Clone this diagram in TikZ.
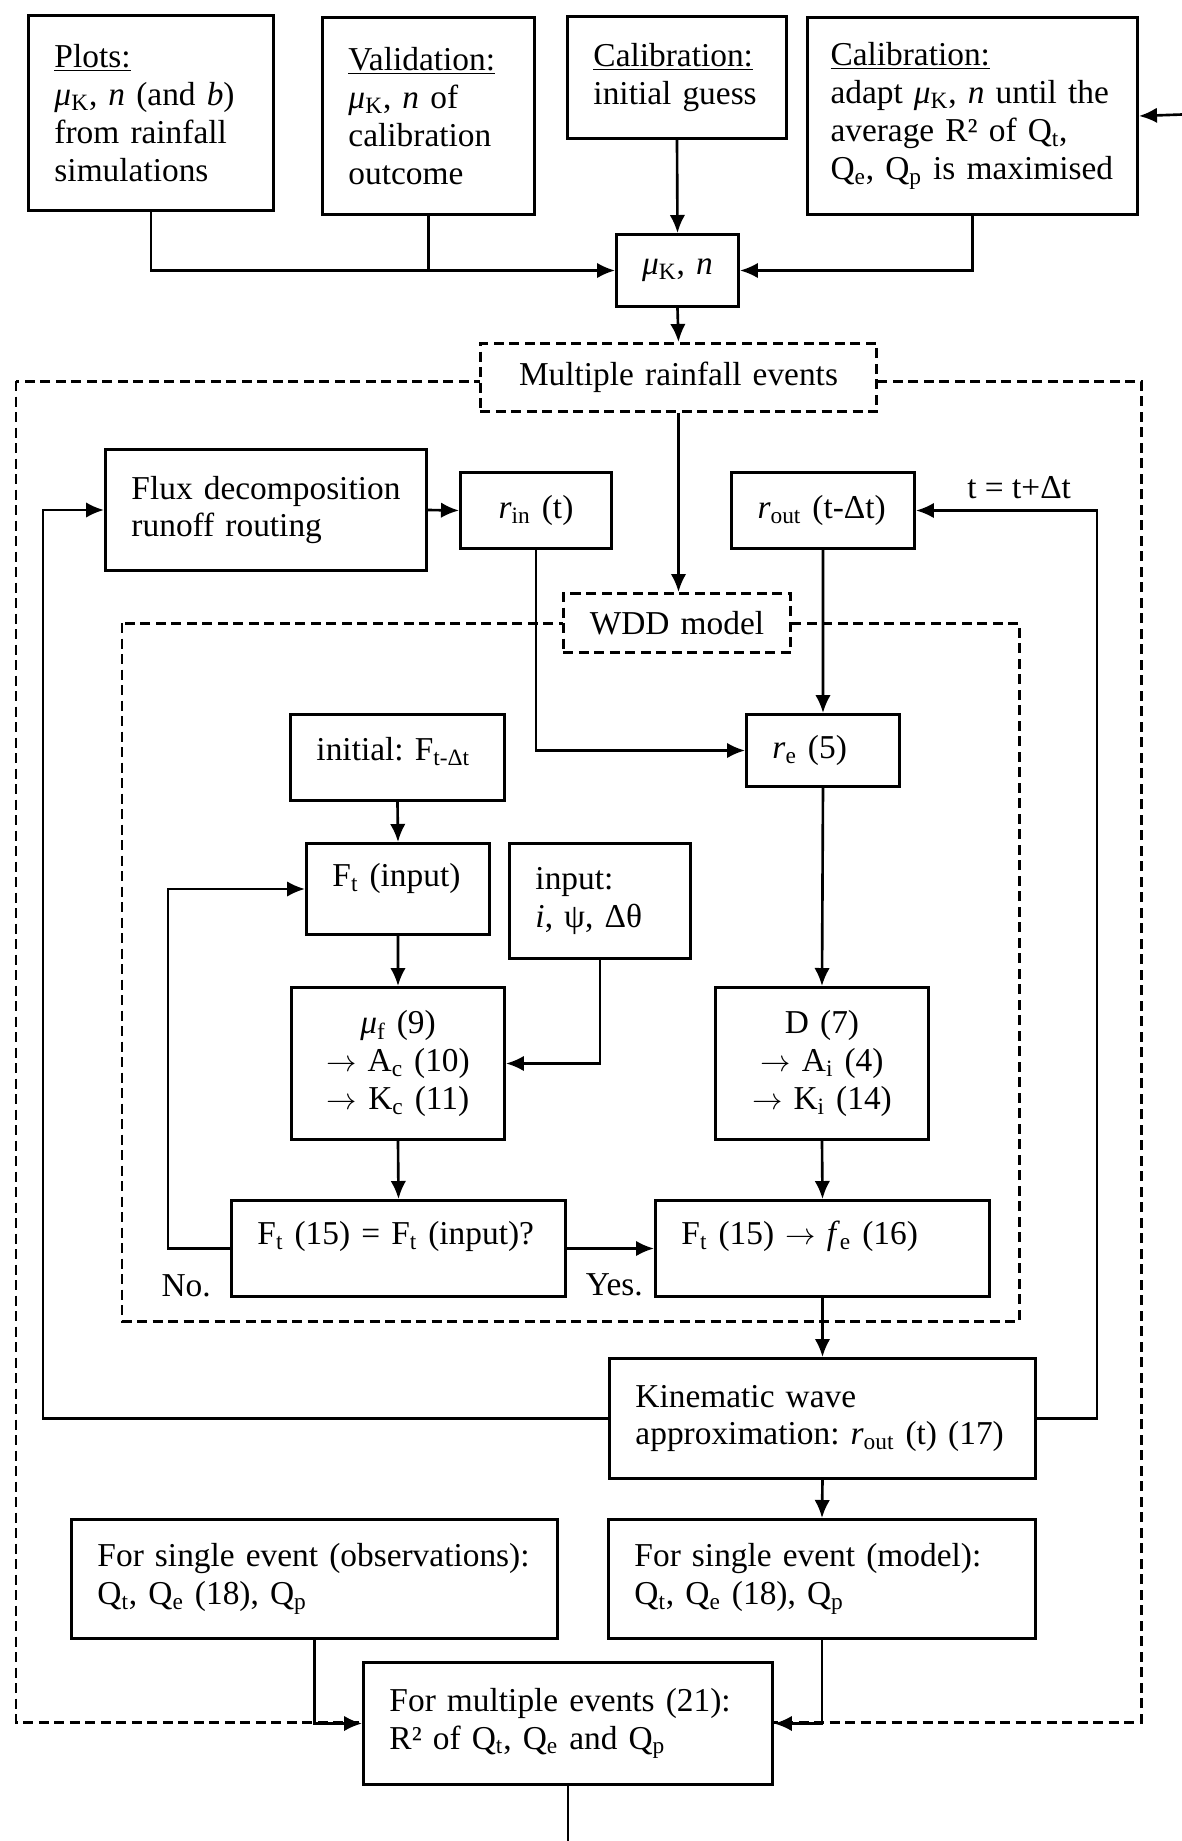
\documentclass[tikz,border=0pt]{standalone}
\usepackage{fontspec}
\setmainfont{Liberation Serif}
\usetikzlibrary{arrows.meta}
\frenchspacing
\hyphenpenalty=10000

\begin{document}
\begin{tikzpicture}[>={Latex[length=3.6mm,width=3.1mm]}, line width=1.5pt,
  font=\fontsize{19}{21.6}\selectfont,
  blk/.style={draw, fill=white, anchor=north west, align=left, inner xsep=5.2mm, inner ysep=0pt, line width=1.7pt},
  mid/.style={blk, align=center},
  dsh/.style={dash pattern=on 2mm off 1.1mm, line width=1.7pt}]

\useasboundingbox (0,0) rectangle (23.64,-36.82);
\draw[dsh] (0.32,-7.62) rectangle (22.82,-34.44);
\draw[dsh] (2.44,-12.46) rectangle (20.38,-26.42);

\path
(0.54,-0.28)   node[blk, text width=3.86cm, minimum height=3.9cm] (plots) {\underline{Plots:}\\ \textit{μ}\textsubscript{K}, \textit{n} (and \textit{b})\\ from rainfall\\ simulations}
(6.42,-0.32)   node[blk, text width=3.2cm, minimum height=3.94cm] (valid) {\underline{Validation:}\\ \textit{μ}\textsubscript{K}, \textit{n} of\\ calibration\\ outcome}
(11.32,-0.30)  node[blk, text width=3.34cm, minimum height=2.44cm] (init) {\underline{Calibration:}\\ initial guess}
(16.12,-0.32)  node[blk, inner xsep=4.6mm, text width=5.68cm, minimum height=3.94cm] (adapt) {\underline{Calibration:}\\ adapt \textit{μ}\textsubscript{K}, \textit{n} until the\\ average R² of Q\textsubscript{t},\\ Q\textsubscript{e}, Q\textsubscript{p} is maximised}
(12.30,-4.66)  node[mid, inner xsep=2.7mm, text width=1.9cm, minimum height=1.44cm] (muK) {\textit{μ}\textsubscript{K}, \textit{n}}
(9.58,-6.84)   node[mid, dsh, text width=6.88cm, minimum height=1.36cm] (multi) {Multiple rainfall events}
(2.08,-8.96)   node[blk, text width=5.38cm, minimum height=2.42cm] (flux) {Flux decomposition\\ runoff routing}
(9.18,-9.42)   node[mid, text width=1.98cm, minimum height=1.52cm] (rin) {\textit{r}\textsubscript{in} (t)}
(14.60,-9.42)  node[blk, text width=2.62cm, minimum height=1.52cm] (rout) {\textit{r}\textsubscript{out} (t-Δt)}
(11.24,-11.84) node[mid, dsh, text width=3.5cm, minimum height=1.18cm] (wdd) {WDD model}
(5.78,-14.26)  node[blk, text width=3.24cm, text height=9.2mm, text depth=8mm] (initF) {initial: F\textsubscript{t-Δt}}
(14.90,-14.26) node[blk, text width=2.02cm, minimum height=1.44cm] (re) {\textit{r}\textsubscript{e} (5)}
(6.10,-16.84)  node[blk, text width=2.62cm, text height=8.6mm, text depth=9.6mm] (Fin) {F\textsubscript{t} (input)}
(10.16,-16.84) node[blk, text width=2.58cm, minimum height=2.3cm] (inp) {input:\\ \textit{i}, ψ, Δθ}
(5.80,-19.72)  node[mid, text width=3.22cm, minimum height=3.04cm] (muf) {\textit{μ}\textsubscript{f} (9)\\ $\rightarrow$ A\textsubscript{c} (10)\\ $\rightarrow$ K\textsubscript{c} (11)}
(14.28,-19.72) node[mid, text width=3.22cm, minimum height=3.04cm] (D) {D (7)\\ $\rightarrow$ A\textsubscript{i} (4)\\ $\rightarrow$ K\textsubscript{i} (14)}
(4.60,-23.98)  node[blk, text width=5.64cm, text height=8.8mm, text depth=10.4mm] (chk) {F\textsubscript{t} (15) = F\textsubscript{t} (input)?}
(13.08,-23.98) node[blk, text width=5.64cm, text height=8.8mm, text depth=10.4mm] (fe) {F\textsubscript{t} (15) $\rightarrow$ \textit{f}\textsubscript{e} (16)}
(12.16,-27.14) node[blk, text width=7.48cm, minimum height=2.4cm] (kin) {Kinematic wave\\ approximation: \textit{r}\textsubscript{out} (t) (17)}
(1.40,-30.36)  node[blk, text width=8.68cm, minimum height=2.38cm] (obs) {For single event (observations):\\ Q\textsubscript{t}, Q\textsubscript{e} (18), Q\textsubscript{p}}
(12.14,-30.36) node[blk, text width=7.5cm, minimum height=2.38cm] (mod) {For single event (model):\\ Q\textsubscript{t}, Q\textsubscript{e} (18), Q\textsubscript{p}}
(7.24,-33.22)  node[blk, text width=7.14cm, minimum height=2.44cm] (mult) {For multiple events (21):\\ R² of Q\textsubscript{t}, Q\textsubscript{e} and Q\textsubscript{p}};

\node[anchor=base east, inner sep=0pt] (no) at ([xshift=-3.6mm,yshift=0.4mm]chk.south west) {No.};
\node[anchor=base east, inner sep=0pt] (yes) at ([xshift=-2mm,yshift=0.6mm]fe.south west) {Yes.};

\coordinate (fromR) at (23.64,-2.29);
\coordinate (toB) at (mult.south |- 0,-36.82);

\draw[->] (plots.south) |- (muK.west);
\draw (valid.south) -- (valid.south |- muK.west);
\draw[->] (init.south) -- (muK.north);
\draw[->] (adapt.south) |- (muK.east);
\draw[->] (fromR) -- (adapt.east);
\draw[->] (muK.south) -- (multi.north);
\draw[->] (multi.south) -- (multi.south |- wdd.north);

\draw[->] (flux.east) -- (rin.west);
\draw[->] (rin.south) |- (re.west);
\draw[->] (rout.south) -- (re.north);
\draw[->] (initF.south) -- (Fin.north);
\draw[->] (Fin.south) -- (muf.north);
\draw[->] (inp.south) |- (muf.east);
\draw[->] (muf.south) -- (chk.north);
\draw[->] (chk.west) -- ++(-1.24,0) |- (Fin.west);
\draw[->] (chk.east) -- (fe.west);
\draw[->] (re.south) -- (D.north);
\draw[->] (D.south) -- (fe.north);
\draw[->] (fe.south) -- (kin.north);

\draw[->] (kin.west) -- ++(-11.30,0) |- (flux.west);
\draw[->] (kin.east) -- ++(1.20,0) |- (rout.east) node[pos=.715, above=1mm] (tlab) {t = t+Δt};
\draw[->] (kin.south) -- (mod.north);
\draw[->] (obs.south) |- (mult.west);
\draw[->] (mod.south) |- (mult.east);
\draw (mult.south) -- (toB);
\end{tikzpicture}
\end{document}
